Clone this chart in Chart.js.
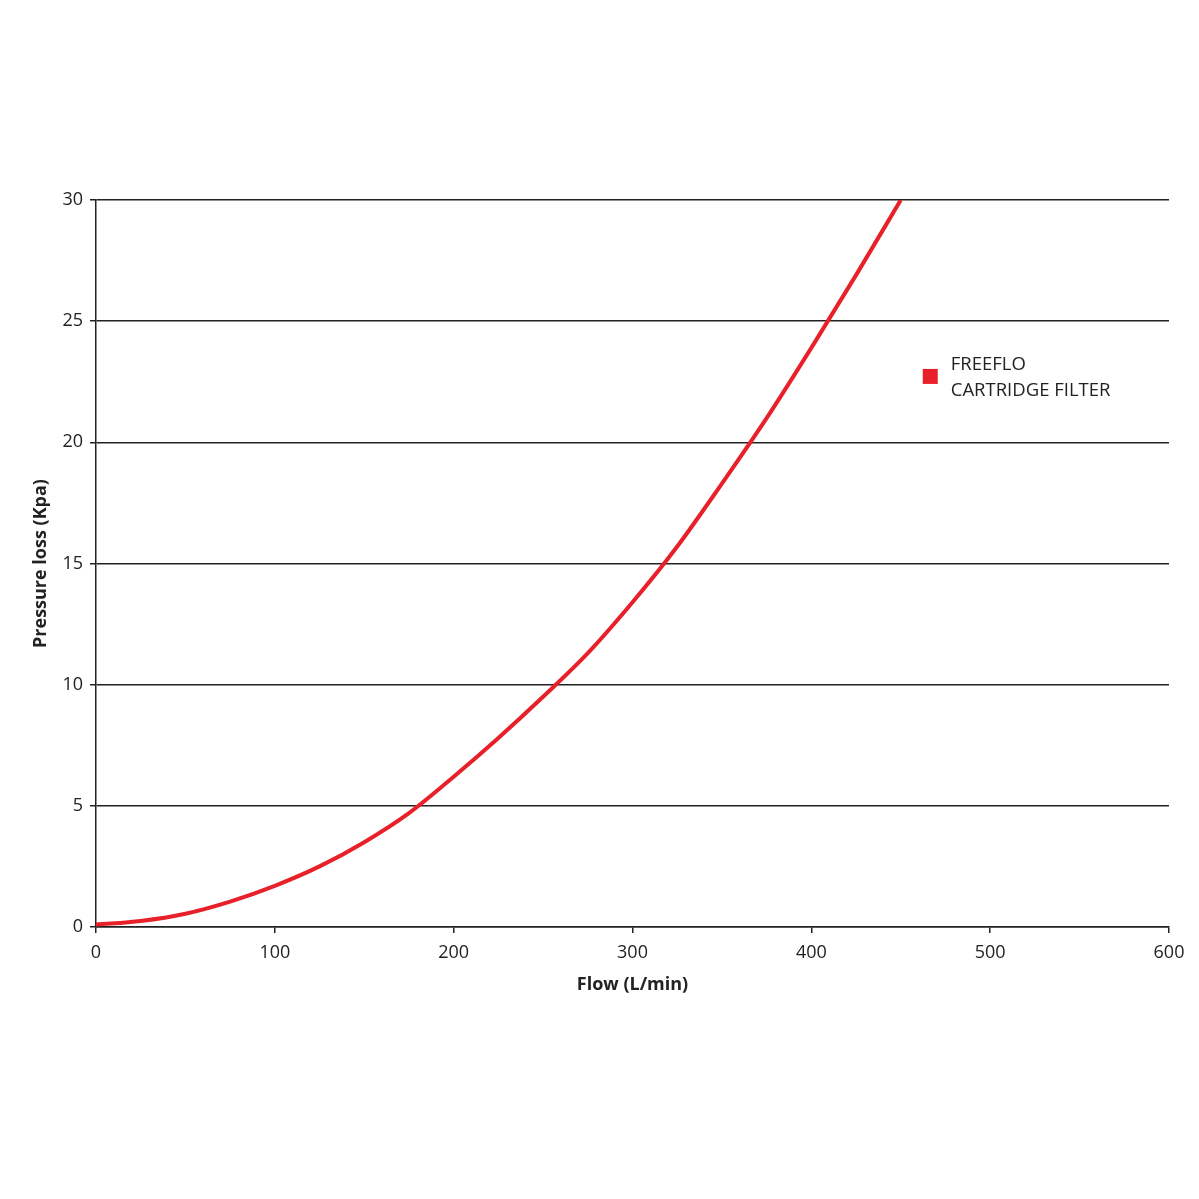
<!DOCTYPE html>
<html>
<head>
<meta charset="utf-8">
<script src="https://cdn.jsdelivr.net/npm/chart.js@4/dist/chart.umd.min.js"></script>
<style>
  html, body { margin: 0; padding: 0; background: #fff; }
  #wrap { width: 1199px; height: 1199px; }
</style>
</head>
<body>
<div id="wrap"><canvas id="flowChart" width="1199" height="1199"></canvas></div>
<script>
// values
const flowValues = [0, 25, 50, 75, 100, 125, 150, 175, 200, 225, 250, 275, 300, 325, 350, 375, 400, 425, 450];
const pressureValues = [0.1, 0.25, 0.55, 1.05, 1.7, 2.5, 3.5, 4.7, 6.2, 7.8, 9.5, 11.3, 13.4, 15.7, 18.3, 21.0, 23.9, 26.9, 30.0];
const seriesLabel = ['FREEFLO', 'CARTRIDGE FILTER'];
const xTicks = [0, 100, 200, 300, 400, 500, 600];
const yTicks = [0, 5, 10, 15, 20, 25, 30];

const FONT = "'Open Sans', 'Noto Sans', sans-serif";
const RED = '#e8202a';

// legend sits inside the plot, to the right of the curve
const insideLegend = {
    id: 'insideLegend',
    afterDraw(chart) {
        const ctx = chart.ctx;
        const area = chart.chartArea;
        const ds = chart.data.datasets[0];
        const x = area.left + (area.right - area.left) * 0.7705;
        const y = area.top + (area.bottom - area.top) * 0.242;
        ctx.save();
        ctx.fillStyle = ds.borderColor;
        ctx.fillRect(x, y - 7, 15, 15);
        ctx.fillStyle = '#222';
        ctx.font = '18.5px ' + FONT;
        ctx.textBaseline = 'middle';
        ctx.textAlign = 'left';
        ctx.fillText(ds.label[0], x + 28, y - 11);
        ctx.fillText(ds.label[1], x + 28, y + 15);
        ctx.restore();
    }
};

const ctx = document.getElementById('flowChart').getContext('2d');
new Chart(ctx, {
    type: 'line',
    data: {
        datasets: [{
            label: seriesLabel,
            data: flowValues.map((f, i) => ({ x: f, y: pressureValues[i] })),
            borderColor: RED,
            borderWidth: 4,
            pointRadius: 0,
            cubicInterpolationMode: 'monotone',
            fill: false
        }]
    },
    options: {
        responsive: false,
        animation: false,
        layout: {
            padding: { top: 200, right: 30, left: 26, bottom: 199 }
        },
        plugins: {
            legend: { display: false },
            tooltip: { enabled: false }
        },
        scales: {
            x: {
                type: 'linear',
                min: 0,
                max: 600,
                afterBuildTicks: scale => { scale.ticks = xTicks.map(v => ({ value: v })); },
                afterFit: scale => { scale.height = 73; },
                grid: {
                    drawOnChartArea: false,
                    drawTicks: true,
                    tickLength: 6,
                    color: '#222',
                    lineWidth: 1.5
                },
                border: { color: '#222', width: 1.5 },
                ticks: {
                    color: '#222',
                    font: { family: FONT, size: 18 },
                    padding: 9
                },
                title: {
                    display: true,
                    text: 'Flow (L/min)',
                    color: '#222',
                    font: { family: FONT, size: 18, weight: 'bold' },
                    padding: { top: 0 }
                }
            },
            y: {
                type: 'linear',
                min: 0,
                max: 30,
                afterBuildTicks: scale => { scale.ticks = yTicks.map(v => ({ value: v })); },
                afterFit: scale => { scale.width = 70; },
                grid: {
                    drawTicks: true,
                    tickLength: 6,
                    color: '#222',
                    lineWidth: 1.5
                },
                border: { color: '#222', width: 1.5 },
                ticks: {
                    color: '#222',
                    font: { family: FONT, size: 18 },
                    padding: 7
                },
                title: {
                    display: true,
                    text: 'Pressure loss (Kpa)',
                    color: '#222',
                    font: { family: FONT, size: 18, weight: 'bold' },
                    padding: { bottom: 0 }
                }
            }
        }
    },
    plugins: [insideLegend]
});
</script>
</body>
</html>
